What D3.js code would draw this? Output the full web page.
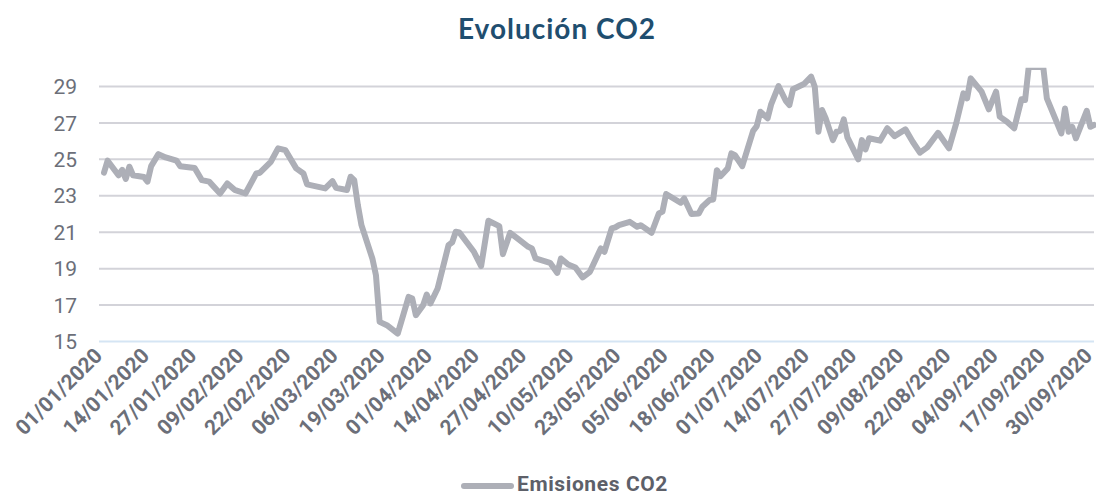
<!DOCTYPE html>
<html>
<head>
<meta charset="utf-8">
<script src="https://cdn.jsdelivr.net/npm/d3@7"></script>
<style>
  body { margin: 0; background: #fff; }
  svg text { font-family: Roboto, "Noto Sans", sans-serif; }
</style>
</head>
<body>
<div id="chart"></div>
<script>
// fechas y valores
var fechas = [
  "01/01/2020","02/01/2020","05/01/2020","06/01/2020","07/01/2020","08/01/2020","09/01/2020","12/01/2020","13/01/2020","14/01/2020",
  "16/01/2020","18/01/2020","21/01/2020","22/01/2020","26/01/2020","28/01/2020","30/01/2020","02/02/2020","04/02/2020","06/02/2020",
  "09/02/2020","12/02/2020","13/02/2020","16/02/2020","18/02/2020","20/02/2020","23/02/2020","25/02/2020","26/02/2020","02/03/2020",
  "04/03/2020","05/03/2020","08/03/2020","09/03/2020","10/03/2020","11/03/2020","12/03/2020","15/03/2020","16/03/2020","17/03/2020",
  "19/03/2020","22/03/2020","25/03/2020","26/03/2020","27/03/2020","29/03/2020","30/03/2020","31/03/2020","02/04/2020","05/04/2020",
  "06/04/2020","07/04/2020","08/04/2020","12/04/2020","14/04/2020","16/04/2020","19/04/2020","20/04/2020","22/04/2020","24/04/2020",
  "27/04/2020","28/04/2020","29/04/2020","03/05/2020","05/05/2020","06/05/2020","08/05/2020","10/05/2020","12/05/2020","14/05/2020",
  "17/05/2020","18/05/2020","20/05/2020","21/05/2020","22/05/2020","25/05/2020","27/05/2020","28/05/2020","31/05/2020","02/06/2020",
  "03/06/2020","04/06/2020","08/06/2020","09/06/2020","11/06/2020","13/06/2020","14/06/2020","16/06/2020","17/06/2020","18/06/2020",
  "19/06/2020","21/06/2020","22/06/2020","23/06/2020","25/06/2020","28/06/2020","29/06/2020","30/06/2020","02/07/2020","03/07/2020",
  "05/07/2020","07/07/2020","08/07/2020","09/07/2020","12/07/2020","14/07/2020","15/07/2020","16/07/2020","17/07/2020","18/07/2020",
  "20/07/2020","21/07/2020","22/07/2020","23/07/2020","24/07/2020","27/07/2020","28/07/2020","29/07/2020","30/07/2020","02/08/2020",
  "04/08/2020","06/08/2020","09/08/2020","11/08/2020","13/08/2020","15/08/2020","18/08/2020","21/08/2020","23/08/2020","25/08/2020",
  "26/08/2020","27/08/2020","30/08/2020","01/09/2020","03/09/2020","04/09/2020","06/09/2020","08/09/2020","10/09/2020","11/09/2020",
  "12/09/2020","16/09/2020","17/09/2020","21/09/2020","22/09/2020","23/09/2020","24/09/2020","25/09/2020","28/09/2020","29/09/2020",
  "30/09/2020"
]

var emisiones = [
  24.24,24.9,24.1,24.4,23.9,24.57,24.1,24.0,23.75,24.6,
  25.26,25.08,24.9,24.6,24.5,23.83,23.75,23.1,23.65,23.3,
  23.1,24.2,24.24,24.84,25.58,25.48,24.48,24.2,23.6,23.38,
  23.78,23.41,23.29,24.02,23.83,22.46,21.36,19.53,18.6,16.05,
  15.87,15.41,17.42,17.33,16.42,16.97,17.55,17.06,17.88,20.26,
  20.41,21.0,20.96,19.9,19.11,21.6,21.31,19.77,20.94,20.63,
  20.17,20.08,19.53,19.29,18.74,19.53,19.2,19.04,18.49,18.8,
  20.08,19.9,21.18,21.24,21.36,21.54,21.27,21.36,20.94,22.0,
  22.1,23.07,22.59,22.83,21.97,22.0,22.37,22.74,22.77,24.38,
  24.05,24.48,25.3,25.2,24.6,26.54,26.8,27.59,27.23,28.01,
  29.0,28.19,27.96,28.82,29.11,29.51,28.96,26.49,27.68,27.23,
  26.03,26.49,26.54,27.17,26.18,24.97,26.03,25.52,26.13,26.0,
  26.68,26.25,26.62,25.94,25.34,25.63,26.43,25.58,26.95,28.6,
  28.32,29.42,28.69,27.72,28.69,27.32,27.04,26.68,28.27,28.23,
  30.05,30.05,28.32,26.4,27.77,26.49,26.76,26.13,27.64,26.76,
  26.86
]

var ticksY = [15, 17, 19, 21, 23, 25, 27, 29]

var ticksX = [
  "01/01/2020","14/01/2020","27/01/2020","09/02/2020","22/02/2020","06/03/2020","19/03/2020","01/04/2020",
  "14/04/2020","27/04/2020","10/05/2020","23/05/2020","05/06/2020","18/06/2020","01/07/2020","14/07/2020",
  "27/07/2020","09/08/2020","22/08/2020","04/09/2020","17/09/2020","30/09/2020"
]

var w = 1096
var h = 495
var parse = d3.timeParse("%d/%m/%Y")
var fmt = d3.timeFormat("%d/%m/%Y")

var datos = fechas.map(function(f, i){ return {fecha: parse(f), valor: emisiones[i]} })

var x = d3.scaleTime()
  .domain([parse("01/01/2020"), parse("30/09/2020")])
  .range([104, 1094])

var y = d3.scaleLinear()
  .domain([15, 30])
  .range([341, 67.8])

var svg = d3.select('#chart').append('svg')
  .attr('width', w)
  .attr('height', h)

// titulo
svg.append('text')
  .attr('x', 557)
  .attr('y', 39)
  .attr('text-anchor', 'middle')
  .style('font-family', 'Lato, sans-serif')
  .style('font-weight', 700)
  .style('font-size', '28px')
  .style('letter-spacing', '1px')
  .attr('fill', '#1f4e6f')
  .text('Evolución CO2')

// lineas de rejilla
var yAxis = d3.axisLeft(y)
  .tickValues(ticksY)
  .tickSize(-(1094 - 99))
  .tickPadding(22)
  .tickFormat(d3.format('d'))

var gy = svg.append('g')
  .attr('transform', 'translate(99,0)')
  .call(yAxis)
gy.select('.domain').remove()
gy.selectAll('.tick line')
  .attr('stroke', function(d){ return d == 15 ? '#d5e5f4' : '#d3d3d9' })
  .attr('stroke-width', 2)
gy.selectAll('.tick text')
  .attr('fill', '#6c6f79')
  .style('font-size', '21px')
  .attr('dy', '0.36em')

// eje x
var xAxis = d3.axisBottom(x)
  .tickValues(ticksX.map(parse))
  .tickSize(0)
  .tickFormat(fmt)

var gx = svg.append('g')
  .attr('transform', 'translate(0,341)')
  .call(xAxis)
gx.select('.domain').remove()
gx.selectAll('.tick text')
  .attr('fill', '#6c6f79')
  .style('font-size', '21px')
  .style('font-weight', 700)
  .attr('text-anchor', 'end')
  .attr('dy', null)
  .attr('y', 0)
  .attr('transform', 'translate(-1,16) rotate(-45)')

// recorte superior
svg.append('clipPath')
  .attr('id', 'recorte')
  .append('rect')
  .attr('x', 0)
  .attr('y', y(30))
  .attr('width', w)
  .attr('height', 400)

var linea = d3.line()
  .x(function(d){ return x(d.fecha) })
  .y(function(d){ return y(d.valor) })

svg.append('path')
  .datum(datos)
  .attr('clip-path', 'url(#recorte)')
  .attr('fill', 'none')
  .attr('stroke', '#adafb7')
  .attr('stroke-width', 6)
  .attr('stroke-linejoin', 'round')
  .attr('stroke-linecap', 'round')
  .attr('d', linea)

// leyenda
svg.append('line')
  .attr('x1', 464)
  .attr('x2', 511)
  .attr('y1', 486)
  .attr('y2', 486)
  .attr('stroke', '#adafb7')
  .attr('stroke-width', 6)
  .attr('stroke-linecap', 'round')

svg.append('text')
  .attr('x', 517)
  .attr('y', 491)
  .attr('fill', '#5d6069')
  .style('font-size', '21px')
  .style('font-weight', 700)
  .style('letter-spacing', '0.6px')
  .text('Emisiones CO2')
</script>
</body>
</html>
